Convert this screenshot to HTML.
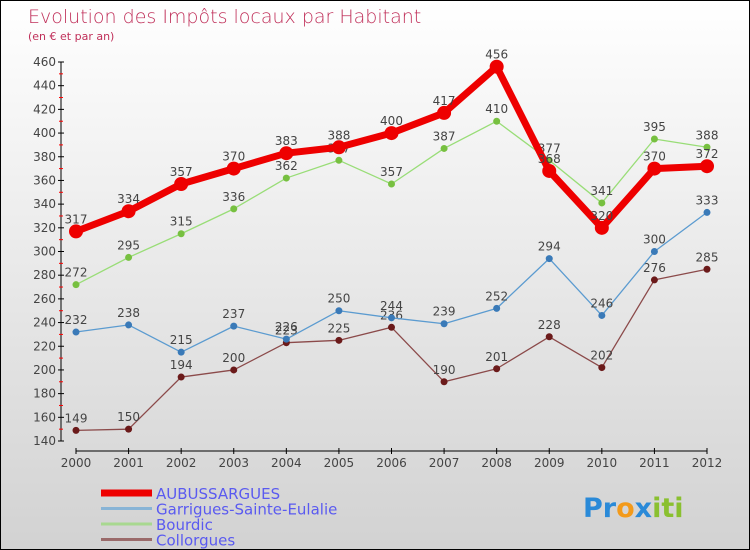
<!DOCTYPE html>
<html><head><meta charset="utf-8"><style>
body{margin:0}
#c{width:750px;height:550px;position:relative;overflow:hidden;background:linear-gradient(#fff,#d2d2d2);box-sizing:border-box;border:1px solid #000;font-family:"DejaVu Sans","Liberation Sans",sans-serif}
</style></head><body>
<div id="c">
<svg id="s" width="750" height="550" style="position:absolute;left:0;top:0">
<text x="27" y="22" font-size="19" fill="#c0305a" style="font-weight:200">Evolution des Impôts locaux par Habitant</text>
<text x="27" y="39" font-size="11" fill="#c0305a">(en € et par an)</text>
</svg>
</div>
<script>
const years=[2000,2001,2002,2003,2004,2005,2006,2007,2008,2009,2010,2011,2012];
const aubussargues=[317,334,357,370,383,388,400,417,456,368,320,370,372];
const garrigues=[232,238,215,237,226,250,244,239,252,294,246,300,333];
const bourdic=[272,295,315,336,362,377,357,387,410,377,341,395,388];
const collorgues=[149,150,194,200,223,225,236,190,201,228,202,276,285];
const yTicks=[140,160,180,200,220,240,260,280,300,320,340,360,380,400,420,440,460];
const svg=document.getElementById('s');const NS='http://www.w3.org/2000/svg';
function X(i){return 75+i*(706-75)/12;}
function Y(v){return 440-(v-140)*(440-61)/320;}
function el(t,a){const e=document.createElementNS(NS,t);for(const k in a)e.setAttribute(k,a[k]);svg.appendChild(e);return e;}
let ax=el('line',{x1:60,y1:61,x2:60,y2:440,stroke:'#000','stroke-width':1});


let bx=el('line',{x1:75,y1:450,x2:706,y2:450,stroke:'#000','stroke-width':1});


yTicks.forEach(v=>{
 el('line',{x1:57,y1:Y(v),x2:63,y2:Y(v),stroke:'#000'});
 if(v<460)el('line',{x1:58,y1:Y(v+10),x2:62,y2:Y(v+10),stroke:'#f00'});
 const t=el('text',{x:55,y:Y(v)+4,'font-size':12,fill:'#444','text-anchor':'end'});t.textContent=v;
 
 
});
years.forEach((y,i)=>{
 el('line',{x1:X(i),y1:447,x2:X(i),y2:453,stroke:'#000'});
 const t=el('text',{x:X(i),y:466,'font-size':12,fill:'#444','text-anchor':'middle'});t.textContent=y;
 
 
});
function series(d,col,w,r,name,dot){
 const p=el('polyline',{points:d.map((v,i)=>X(i)+','+Y(v)).join(' '),fill:'none',stroke:col,'stroke-width':w,'stroke-linejoin':'round'});
 
 
 d.forEach((v,i)=>{
  const c=el('circle',{cx:X(i),cy:Y(v),r:r,fill:dot});
  
  
  const t=el('text',{x:X(i),y:Y(v)-8,'font-size':12,fill:'#444','text-anchor':'middle'});t.textContent=v;
  
  
 });
}
series(collorgues,'#8b4a4a',1.3,3.5,'collorgues','#6b1a1a');
series(garrigues,'#5b9bd0',1.3,3.5,'garrigues','#3a7ab8');
series(bourdic,'#99dd77',1.3,3.5,'bourdic','#77c040');
series(aubussargues,'#ee0000',7,7,'aubussargues','#ee0000');
const leg=[['AUBUSSARGUES','#ee0000',7],['Garrigues-Sainte-Eulalie','#88b4d6',3],['Bourdic','#a8d890',3],['Collorgues','#9a6a6a',3]];
leg.forEach((l,i)=>{
 const y=492+i*15.5;
 const ln=el('line',{x1:100,y1:y,x2:151,y2:y,stroke:l[1],'stroke-width':l[2]});
 
 
 const t=el('text',{x:155,y:y+6,'font-size':15,fill:'#5a5af0'});t.textContent=l[0];
 
 
});
const lg=el('text',{x:582,y:516,'font-size':27,'font-weight':'bold',fill:'#f39a1a'});
lg.innerHTML='<tspan fill="#2a8ad8">Pr</tspan><tspan fill="#f39a1a">o</tspan><tspan fill="#2a8ad8">x</tspan><tspan fill="#8ac030">iti</tspan>';


</script>
</body></html>
